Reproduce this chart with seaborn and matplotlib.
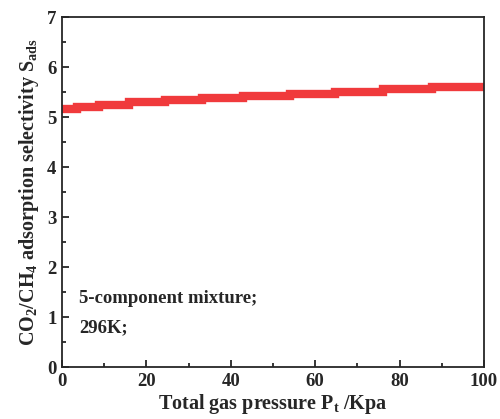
import matplotlib
matplotlib.use("Agg")
import matplotlib.pyplot as plt
import seaborn as sns
import pandas as pd
from matplotlib.ticker import MultipleLocator

# data (step edges, selectivity values)
pressure = [0, 3.5, 8.8, 15.9, 24.4, 33.1, 42.9, 54.0, 64.7, 76.1, 87.6, 100]
selectivity = [5.16, 5.21, 5.25, 5.30, 5.34, 5.39, 5.43, 5.47, 5.51, 5.56, 5.61, 5.61]
xticks = [0, 20, 40, 60, 80, 100]
yticks = [0, 1, 2, 3, 4, 5, 6, 7]

sns.set_style("ticks")
plt.rcParams['font.family'] = ['Liberation Serif', 'DejaVu Serif']
plt.rcParams['font.weight'] = 'bold'
plt.rcParams['mathtext.fontset'] = 'custom'
plt.rcParams['mathtext.rm'] = 'Liberation Serif:bold'
plt.rcParams['mathtext.it'] = 'Liberation Serif:bold'
plt.rcParams['mathtext.bf'] = 'Liberation Serif:bold'

df = pd.DataFrame({"P": pressure, "S": selectivity})

fig = plt.figure(figsize=(5.0, 4.19), dpi=100)
ax = fig.add_axes([0.124, 0.124, 0.844, 0.835])
sns.lineplot(data=df, x="P", y="S", ax=ax, color="#f03a3c", linewidth=6.0,
             drawstyle="steps-post", legend=False,
             solid_capstyle='butt', solid_joinstyle='miter')

ax.set_xlim(0, 100)
ax.set_ylim(0, 7)
ax.set_xticks(xticks)
ax.set_yticks(yticks)
ax.xaxis.set_minor_locator(MultipleLocator(10))
ax.yaxis.set_minor_locator(MultipleLocator(0.5))
ax.tick_params(which='both', direction='in', width=1.3, labelsize=13.5, pad=4)
ax.tick_params(which='major', length=5)
ax.tick_params(which='minor', length=3)
for lbl in ax.get_xticklabels() + ax.get_yticklabels():
    lbl.set_fontweight('bold')
for sp in ax.spines.values():
    sp.set_linewidth(1.3)
    sp.set_visible(True)

ax.set_xlabel(r'Total gas pressure P$_{\mathrm{t}}$ /Kpa', fontsize=14.5, fontweight='bold', labelpad=2)
ax.set_ylabel(r'CO$_{2}$/CH$_{4}$ adsorption selectivity S$_{\mathrm{ads}}$', fontsize=14.5, fontweight='bold', labelpad=4)

ax.text(0.04, 0.195, '5-component mixture;', transform=ax.transAxes, fontsize=13.5, fontweight='bold', va='center')
ax.text(0.04, 0.113, '296K;', transform=ax.transAxes, fontsize=13.5, fontweight='bold', va='center')

fig.savefig("out.png", dpi=100)
